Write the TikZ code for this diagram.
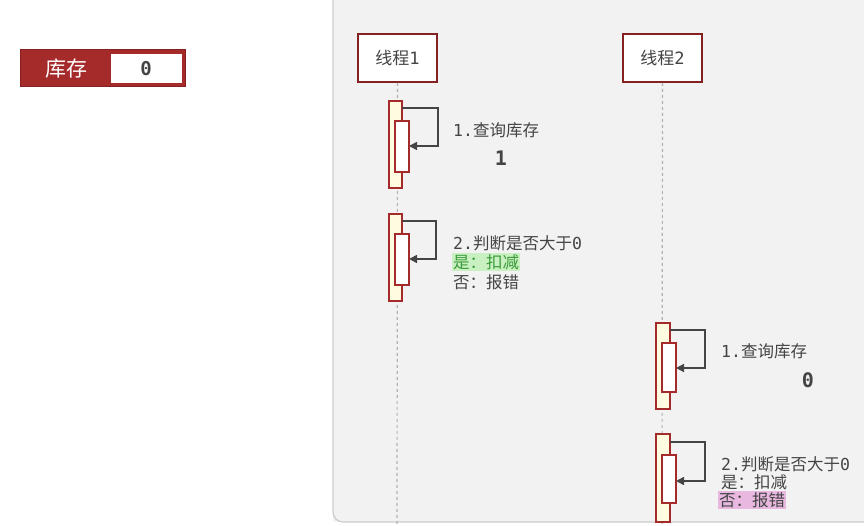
\documentclass[tikz,border=0pt]{standalone}
\usepackage{fontspec}
\newfontfamily\cjk{Noto Sans CJK SC}
\newfontfamily\mon{DejaVu Sans Mono}
\usetikzlibrary{arrows.meta}
\definecolor{dred}{HTML}{A52A2A}
\definecolor{bar}{HTML}{FFFBE0}
\definecolor{panel}{HTML}{F2F2F2}
\definecolor{txt}{HTML}{444444}
\definecolor{gbg}{HTML}{C8F0C0}
\definecolor{gtx}{HTML}{3A9A3A}
\definecolor{pbg}{HTML}{E8B8E0}
\begin{document}
\begin{tikzpicture}[x=1pt,y=-1pt,
  head/.style={draw=dred!80!black,line width=1.6pt,fill=white,minimum width=79pt,minimum height=48pt,inner sep=0pt,font=\cjk\fontsize{17}{17}\selectfont,text=txt},
  outer/.style={draw=dred,line width=1.5pt,fill=bar},
  inner/.style={draw=dred,line width=1.5pt,fill=white},
  life/.style={draw=gray!60,dashed,line width=1.2pt},
  loop/.style={draw=txt,line width=1.6pt,-{Triangle[length=8pt,width=8pt]}},
  lbl/.style={anchor=west,inner sep=1pt,text=txt,font=\fontsize{16.5}{18}\selectfont},
  big/.style={font=\mon\bfseries\fontsize{20}{20}\selectfont,text=txt}]
\useasboundingbox (0,0) rectangle (864,526);
\fill[white] (0,0) rectangle (864,526);
\fill[panel] (333,-10) rectangle (874,522);
\draw[gray!40,line width=1.2pt,rounded corners=10pt] (333,-10) -- (333,522) -- (874,522);
% badge
\node[draw=dred!80!black,fill=dred,line width=1pt,minimum width=165pt,minimum height=37pt,inner sep=0pt] (badge) at (102.5,68.5) {};
\node[fill=white,minimum width=71pt,minimum height=29pt,inner sep=0pt] (val) at (146,68.5) {\mon\bfseries\fontsize{19}{19}\selectfont\color{txt}0};
\node[text=white,font=\cjk\fontsize{21}{21}\selectfont] (kc) at (66,68.5) {库存};
% heads
\node[head] (t1) at (397.5,58) {线程\mon 1};
\node[head] (t2) at (662.5,58) {线程\mon 2};
\coordinate (e1) at (397,526); \coordinate (e2) at (662,526);
\draw[life] (t1.south) -- (e1);
\draw[life] (t2.south) -- (e2);
% thread1
\draw[outer] (389,101) rectangle (402,188);
\draw[inner] (395,121) rectangle (409,172);
\coordinate (a1) at (402,108); \coordinate (b1) at (409,146);
\draw[loop] (a1) -| (438,146) -- (b1);
\node[lbl] (l1) at (452,130) {\mon 1.\cjk 查询库存};
\node[big] (v1) at (501,158) {1};
\draw[outer] (389,214) rectangle (402,301);
\draw[inner] (395,234) rectangle (409,285);
\coordinate (a2) at (402,221); \coordinate (b2) at (409,259);
\draw[loop] (a2) -| (436,259) -- (b2);
\node[lbl] (l2) at (452,243) {\mon 2.\cjk 判断是否大于\mon 0};
\node[lbl,fill=gbg,text=gtx] (l3) at (452,262) {\cjk 是：扣减};
\node[lbl] (l4) at (452,282) {\cjk 否：报错};
% thread2
\draw[outer] (656,323) rectangle (670,409);
\draw[inner] (662,343) rectangle (676,392);
\coordinate (a3) at (670,330); \coordinate (b3) at (676,368);
\draw[loop] (a3) -| (705,368) -- (b3);
\node[lbl] (m1) at (720,351) {\mon 1.\cjk 查询库存};
\node[big] (v2) at (808,380) {0};
\draw[outer] (656,434) rectangle (670,522);
\draw[inner] (662,455) rectangle (676,503);
\coordinate (a4) at (670,442); \coordinate (b4) at (676,481);
\draw[loop] (a4) -| (705,481) -- (b4);
\node[lbl] (m2) at (720,464) {\mon 2.\cjk 判断是否大于\mon 0};
\node[lbl] (m3) at (720,482) {\cjk 是：扣减};
\node[lbl,fill=pbg] (m4) at (718,500) {\cjk 否：报错};
\end{tikzpicture}
\end{document}
